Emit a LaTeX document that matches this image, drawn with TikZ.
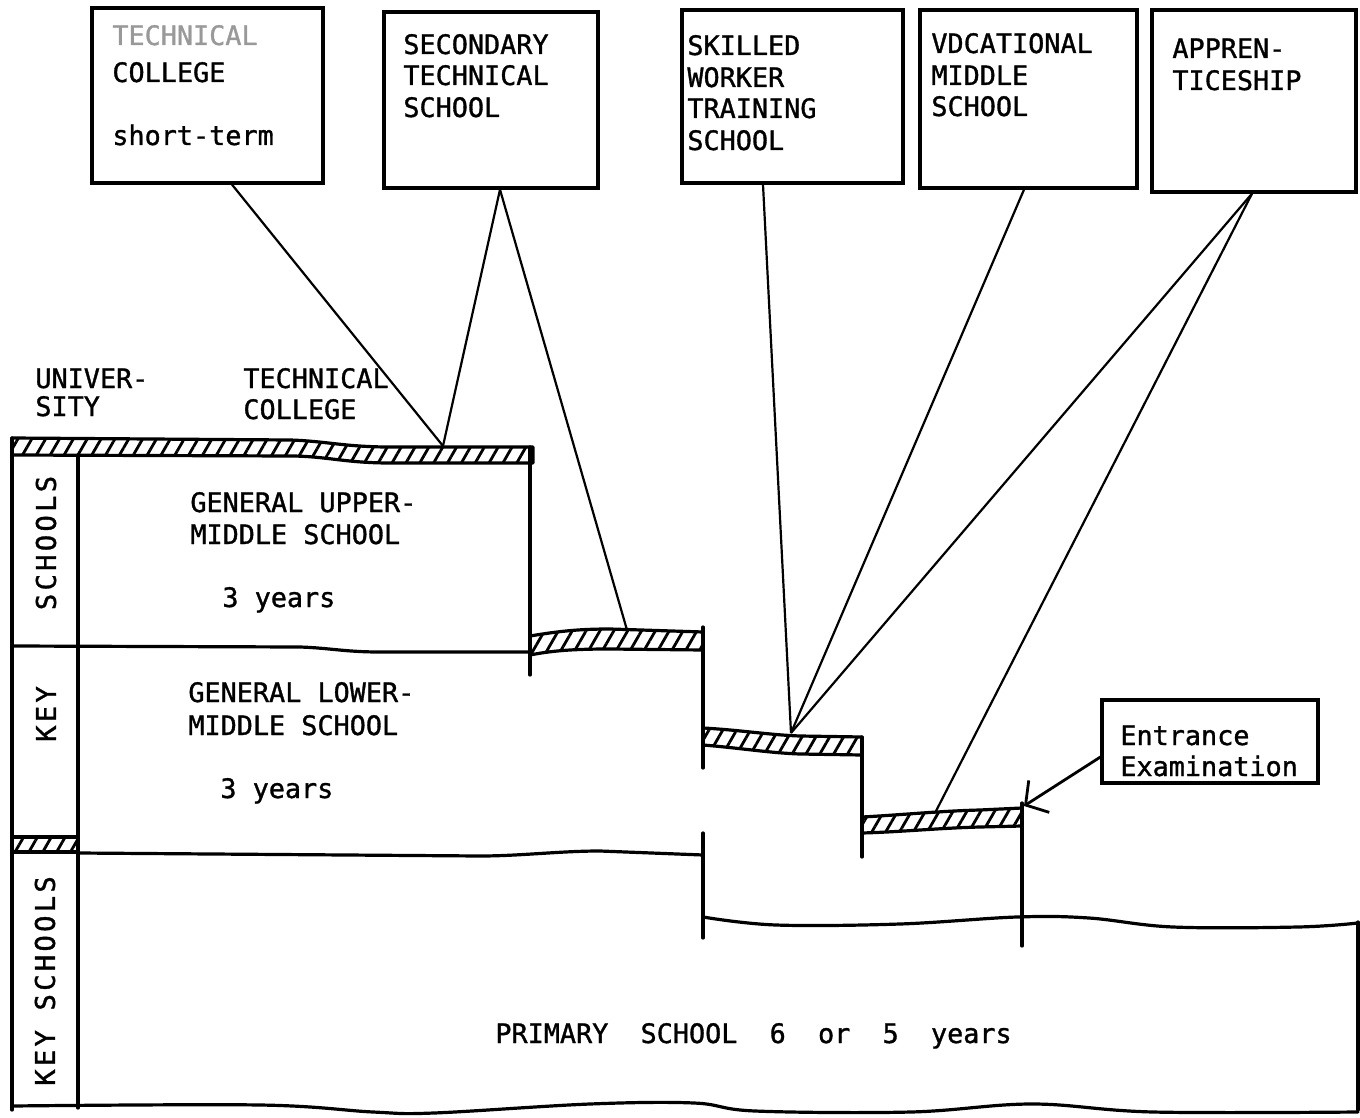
\documentclass[tikz,border=0pt]{standalone}
\usepackage{fontspec}
\newfontfamily\tw[FakeBold=1.2]{DejaVu Sans Mono}
\newfontfamily\tws[LetterSpace=12,FakeBold=1.2]{DejaVu Sans Mono}
\usetikzlibrary{patterns.meta,fit,arrows.meta}
\begin{document}
\begin{tikzpicture}[x=0.5pt,y=-0.5pt,
  struct/.style={line width=1.6pt, line join=round, line cap=round},
  conn/.style={line width=1.1pt},
  hatch/.style={struct, pattern={Lines[angle=60,distance=6pt,line width=1.4pt]}},
  topbox/.style={draw, line width=1.6pt, inner sep=0pt},
  lbl/.style={font=\tw\fontsize{13.4}{15}\selectfont, inner sep=0pt, anchor=base west},
  rot/.style={font=\tws\fontsize{13.6}{15}\selectfont, inner sep=0pt, rotate=90}]

\useasboundingbox (0,0) rectangle (1360,1118);

% top boxes
\node[topbox, fit={(92,8)(323,183)}] (b1) {};
\node[topbox, fit={(384,12)(598,188)}] (b2) {};
\node[topbox, fit={(682,10)(903,183)}] (b3) {};
\node[topbox, fit={(920,10)(1137,188)}] (b4) {};
\node[topbox, fit={(1152,10)(1356,192)}] (b5) {};
\node[topbox, fit={(1102,700)(1318,783)}] (ent) {};

\node[lbl, text=black!40] (b1a) at (112,45) {TECHNICAL};
\node[lbl] (b1b) at (112,82) {COLLEGE};
\node[lbl] (b1c) at (112,145) {short-term};
\node[lbl] (b2a) at (403,54) {SECONDARY};
\node[lbl] (b2b) at (403,85) {TECHNICAL};
\node[lbl] (b2c) at (403,117) {SCHOOL};
\node[lbl] (b3a) at (687,55) {SKILLED};
\node[lbl] (b3b) at (687,87) {WORKER};
\node[lbl] (b3c) at (687,118) {TRAINING};
\node[lbl] (b3d) at (687,150) {SCHOOL};
\node[lbl] (b4a) at (931,53) {VDCATIONAL};
\node[lbl] (b4b) at (931,85) {MIDDLE};
\node[lbl] (b4c) at (931,116) {SCHOOL};
\node[lbl] (b5a) at (1172,58) {APPREN-};
\node[lbl] (b5b) at (1172,90) {TICESHIP};
\node[lbl] (enta) at (1120,745) {Entrance};
\node[lbl] (entb) at (1120,776) {Examination};

% hatched bars
\draw[hatch] (12,438) -- (290,440) .. controls (325,441) and (345,447) .. (390,447) -- (533,447) -- (533,463) -- (390,463) .. controls (345,463) and (325,456) .. (290,456) -- (12,455) -- cycle;
\draw[hatch] (530,636) .. controls (560,631) and (580,629) .. (610,629) -- (703,632) -- (703,650) -- (610,649) .. controls (580,649) and (555,650) .. (530,655) -- cycle;
\draw[hatch] (703,728) .. controls (740,730) and (770,735) .. (800,736) -- (862,737) -- (862,755) -- (800,754) .. controls (770,753) and (740,748) .. (703,745) -- cycle;
\draw[hatch] (862,817) .. controls (900,815) and (940,811) .. (980,810) -- (1022,808) -- (1022,826) -- (980,827) .. controls (940,828) and (900,832) .. (862,833) -- cycle;
\draw[hatch] (12,837) rectangle (78,852);

% structure lines
\draw[struct] (12,438) -- (12,1110);
\draw[struct] (78,455) -- (78,1108);
\draw[struct] (530,447) -- (530,675);
\draw[struct] (12,646) -- (300,647) .. controls (330,648) and (345,652) .. (380,652) -- (530,652);
\draw[struct] (703,627) -- (703,768);
\draw[struct] (703,833) -- (703,938);
\draw[struct] (862,737) -- (862,857);
\draw[struct] (1022,803) -- (1022,946);
\draw[struct] (1358,922) -- (1358,1110);
\draw[struct] (78,853) -- (480,856) .. controls (520,856) and (560,851) .. (600,851) -- (703,855);
\draw[struct] plot[smooth, tension=0.6] coordinates {(703,917)(776,925)(900,924)(1017,917)(1089,918)(1173,927)(1298,927)(1358,923)};
\draw[struct] plot[smooth, tension=0.6] coordinates {(12,1106)(260,1105)(373,1112)(434,1113)(590,1104)(694,1103)(755,1111)(911,1112)(1032,1104)(1153,1112)(1358,1112)};

% labels in the main chart
\node[lbl] (uni1) at (35,388) {UNIVER-};
\node[lbl] (uni2) at (35,416) {SITY};
\node[lbl] (tc1) at (243,388) {TECHNICAL};
\node[lbl] (tc2) at (243,419) {COLLEGE};
\node[lbl] (gu1) at (190,512) {GENERAL UPPER-};
\node[lbl] (gu2) at (190,544) {MIDDLE SCHOOL};
\node[lbl] (gu3) at (222,607) {3 years};
\node[lbl] (gl1) at (188,702) {GENERAL LOWER-};
\node[lbl] (gl2) at (188,735) {MIDDLE SCHOOL};
\node[lbl] (gl3) at (220,798) {3 years};
\node[lbl] (prim) at (495,1043) {PRIMARY~~SCHOOL~~6~~or~~5~~years};
\node[rot] (ks1) at (46,543) {SCHOOLS};
\node[rot] (ks2) at (46,714) {KEY};
\node[rot] (ks3) at (45,981) {KEY SCHOOLS};

% connector targets
\coordinate (pTC) at (443,446);
\coordinate (pST) at (627,630);
\coordinate (pSK) at (791,733);
\coordinate (pAP) at (935,813);
\coordinate (pEX) at (1024,806);

\draw[conn] (b1.south -| 232,0) -- (pTC);
\draw[conn] (b2.south -| 500,0) -- (pTC);
\draw[conn] (b2.south -| 500,0) -- (pST);
\draw[conn] (b3.south -| 763,0) -- (pSK);
\draw[conn] (b4.south -| 1024,0) -- (pSK);
\draw[conn] (b5.south -| 1252,0) -- (pSK);
\draw[conn] (b5.south -| 1252,0) -- (pAP);
\draw[line width=1.4pt, -{Straight Barb[length=8pt,width=19pt]}] (ent.west |- 0,757) -- (pEX);
\end{tikzpicture}
\end{document}
